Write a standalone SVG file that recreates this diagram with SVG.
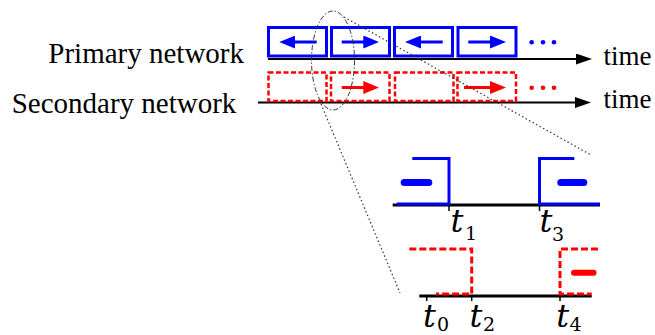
<svg xmlns="http://www.w3.org/2000/svg" width="655" height="335" viewBox="0 0 655 335">
<style>
.lbl{font-family:"Liberation Serif","Times New Roman",serif;font-size:29px;fill:#000}
.time{font-family:"Liberation Serif","Times New Roman",serif;font-size:27px;fill:#000}
.t{font-family:"DejaVu Serif",serif;font-style:italic;font-size:32px;fill:#000}
.sub{font-family:"DejaVu Serif",serif;font-size:19px;fill:#000}
.pbox{fill:#fff;stroke:#0000ff;stroke-width:3}
.sbox{fill:#fff;stroke:#ff0000;stroke-width:2.5;stroke-dasharray:5 2.5}
.barr{stroke:#0000ff;stroke-width:3;marker-end:url(#bh)}
.rarr{stroke:#ff0000;stroke-width:3;marker-end:url(#rh)}
.axis{stroke:#000;stroke-width:2;marker-end:url(#kh)}
.bdot{fill:#0000ff}
.rdot{fill:#ff0000}
.bsig{fill:none;stroke:#0000ff;stroke-width:3}
.rsig{fill:none;stroke:#ff0000;stroke-width:3;stroke-dasharray:7 3}
.bpill{stroke:#0000ff;stroke-width:7;stroke-linecap:round}
.rpill{stroke:#ff0000;stroke-width:6;stroke-linecap:round}
.tax{stroke:#000;stroke-width:3}
.tick{stroke:#000;stroke-width:1.5}
.dot{fill:none;stroke:#333;stroke-width:1.2;stroke-dasharray:1.5 2.5}
.ell{fill:none;stroke:#333;stroke-width:1;stroke-dasharray:5 2 1.5 2}
</style>
<defs>
<marker id="bh" markerUnits="userSpaceOnUse" markerWidth="16" markerHeight="13" refX="6" refY="6.5" orient="auto"><path d="M0,0 L16,6.5 L0,13 z" fill="#0000ff"/></marker>
<marker id="rh" markerUnits="userSpaceOnUse" markerWidth="16" markerHeight="13" refX="6" refY="6.5" orient="auto"><path d="M0,0 L16,6.5 L0,13 z" fill="#ff0000"/></marker>
<marker id="kh" markerUnits="userSpaceOnUse" markerWidth="16" markerHeight="11" refX="6" refY="5.5" orient="auto"><path d="M0,0 L16,5.5 L0,11 z" fill="#000"/></marker>
</defs>

<g id="labels">
<text class="lbl" x="48.3" y="63">Primary network</text>
<text class="lbl" x="11.7" y="113">Secondary network</text>
<text class="time" x="603.5" y="65">time</text>
<text class="time" x="603.5" y="108">time</text>
</g>

<g id="connectors">
<line class="axis" x1="268" y1="59" x2="582" y2="59"/>
<line class="axis" x1="258" y1="102.5" x2="581" y2="102.5"/>
</g>

<g id="primary-network">
<rect class="pbox" x="268.5" y="27.5" width="58" height="28.5"/>
<rect class="pbox" x="331.5" y="27.5" width="58" height="28.5"/>
<rect class="pbox" x="394.5" y="27.5" width="58" height="28.5"/>
<rect class="pbox" x="458" y="27.5" width="58" height="28.5"/>
<line class="barr" x1="316.7" y1="42" x2="289.3" y2="42"/>
<line class="barr" x1="341.7" y1="42" x2="369.3" y2="42"/>
<line class="barr" x1="442.7" y1="42" x2="415" y2="42"/>
<line class="barr" x1="468.3" y1="42" x2="496" y2="42"/>
<circle class="bdot" cx="531.7" cy="42.3" r="2.3"/>
<circle class="bdot" cx="543" cy="42.3" r="2.3"/>
<circle class="bdot" cx="554" cy="42.3" r="2.3"/>
</g>

<g id="secondary-network">
<rect class="sbox" x="268.5" y="72.5" width="58" height="28.5"/>
<rect class="sbox" x="331" y="72.5" width="58.5" height="28.5"/>
<rect class="sbox" x="395" y="72.5" width="58.5" height="28.5"/>
<rect class="sbox" x="457.5" y="72.5" width="58.5" height="28.5"/>
<line class="rarr" x1="341.7" y1="87.5" x2="369.3" y2="87.5"/>
<line class="rarr" x1="464" y1="87.5" x2="496" y2="87.5"/>
<circle class="rdot" cx="531.7" cy="87.7" r="2.3"/>
<circle class="rdot" cx="543" cy="87.7" r="2.3"/>
<circle class="rdot" cx="554" cy="87.7" r="2.3"/>
</g>

<g id="zoom">
<ellipse class="ell" cx="333" cy="60.5" rx="21.5" ry="49.5"/>
<line class="dot" x1="344" y1="17" x2="591" y2="155"/>
<line class="dot" x1="321" y1="104" x2="400" y2="293"/>
</g>

<g id="primary-detail">
<line class="tax" x1="392.7" y1="205" x2="600" y2="205"/>
<path class="bsig" d="M412.3,158.5 H449 V204 H396.7"/>
<path class="bsig" d="M574.3,158.5 H539.5 V204 H600"/>
<line class="bpill" x1="404.2" y1="182.5" x2="428.8" y2="182.5"/>
<line class="bpill" x1="560.8" y1="182.5" x2="583.8" y2="182.5"/>
<line class="tick" x1="449" y1="205" x2="449" y2="211"/>
<line class="tick" x1="539.5" y1="205" x2="539.5" y2="211"/>
<text class="t" x="450.5" y="231.7">t</text><text class="sub" x="465" y="240">1</text>
<text class="t" x="539.5" y="231.7">t</text><text class="sub" x="552" y="241">3</text>
</g>

<g id="secondary-detail">
<line class="tax" x1="419.3" y1="296" x2="591.7" y2="296"/>
<path class="rsig" d="M409.3,249 H471.7 V294 H436"/>
<path class="rsig" d="M598,249 H560 V294 H591.7"/>
<line class="rpill" x1="574" y1="272.7" x2="593.5" y2="272.7"/>
<line class="tick" x1="426.7" y1="296" x2="426.7" y2="301"/>
<line class="tick" x1="471.7" y1="296" x2="471.7" y2="301"/>
<line class="tick" x1="560" y1="296" x2="560" y2="301"/>
<text class="t" x="423" y="326.7">t</text><text class="sub" x="437" y="331">0</text>
<text class="t" x="469.5" y="326.7">t</text><text class="sub" x="483" y="331">2</text>
<text class="t" x="556.2" y="326.7">t</text><text class="sub" x="569.5" y="331">4</text>
</g>
</svg>
